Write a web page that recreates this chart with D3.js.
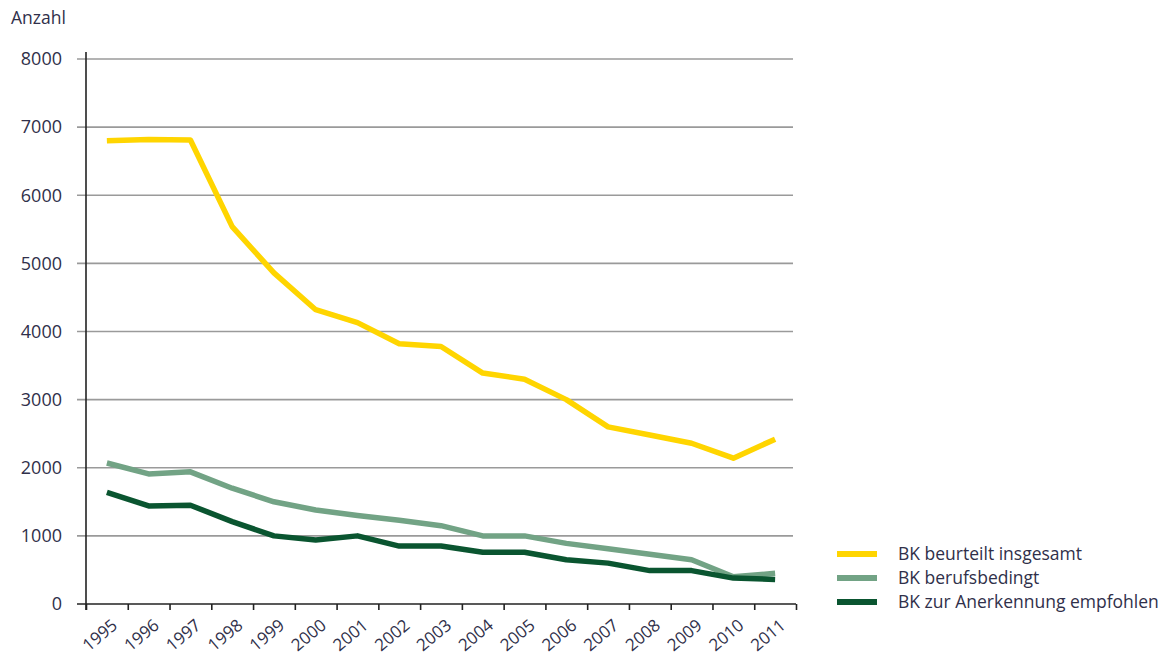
<html>
    <head>
        <script src="https://d3js.org/d3.v7.min.js"></script>
        <style>
            body {
                margin: 0;
                background: #fff;
            }

            text {
                font-family: "Open Sans", sans-serif;
                fill: #30304a;
            }

            .grid line {
                stroke: #9a9a9a;
                stroke-width: 1.6px;
            }

            .series {
                fill: none;
                stroke-width: 5.5px;
                stroke-linejoin: round;
            }
        </style>
    </head>
    <body>
        <script>
            var years = [1995, 1996, 1997, 1998, 1999, 2000, 2001, 2002, 2003,
                         2004, 2005, 2006, 2007, 2008, 2009, 2010, 2011];

            var beurteilt = [6800, 6820, 6810, 5540, 4860, 4320, 4130, 3820, 3780,
                             3390, 3300, 3000, 2600, 2480, 2360, 2140, 2420];
            var berufsbedingt = [2070, 1910, 1940, 1700, 1500, 1380, 1300, 1230, 1150,
                                 1000, 1000, 890, 810, 730, 650, 400, 450];
            var empfohlen = [1640, 1440, 1450, 1210, 1000, 940, 1000, 850, 850,
                             760, 760, 650, 600, 490, 490, 380, 360];

            var yTicks = [0, 1000, 2000, 3000, 4000, 5000, 6000, 7000, 8000];

            var series = [
                {name: "BK beurteilt insgesamt", values: beurteilt, color: "#ffd500"},
                {name: "BK berufsbedingt", values: berufsbedingt, color: "#72a385"},
                {name: "BK zur Anerkennung empfohlen", values: empfohlen, color: "#0a5530"}
            ];

            var margin = {top: 59, right: 368, bottom: 51, left: 86},
                width = 1164 - margin.left - margin.right,
                height = 655 - margin.top - margin.bottom;

            var svg = d3.select("body").append("svg")
                .attr("width", 1164)
                .attr("height", 655);

            var g = svg.append("g")
                .attr("transform", "translate(" + margin.left + "," + margin.top + ")");

            var x = d3.scaleLinear()
                .domain([years[0] - 0.5, years[years.length - 1] + 0.5])
                .range([0, width]);

            var y = d3.scaleLinear()
                .domain([0, 8000])
                .range([height, 0]);

            // horizontal gridlines with a small stub left of the axis
            g.append("g")
                .attr("class", "grid")
                .selectAll("line")
                .data(yTicks.slice(1))
                .enter().append("line")
                .attr("x1", -9)
                .attr("x2", width - 3)
                .attr("y1", function (d) { return y(d); })
                .attr("y2", function (d) { return y(d); });

            var line = d3.line()
                .x(function (d, i) { return x(years[i]); })
                .y(function (d) { return y(d); });

            g.selectAll(".series")
                .data(series)
                .enter().append("path")
                .attr("class", "series")
                .attr("stroke", function (d) { return d.color; })
                .attr("d", function (d) { return line(d.values); });

            // y axis
            var yAxis = g.append("g")
                .call(d3.axisLeft(y).tickValues(yTicks).tickSize(9).tickFormat(d3.format("d")));
            yAxis.select(".domain").remove();
            yAxis.selectAll(".tick line").remove();
            yAxis.selectAll("text")
                .attr("x", -24)
                .style("font-size", "18px");
            g.append("line")
                .attr("x1", 0).attr("x2", 0)
                .attr("y1", -7).attr("y2", height + 6)
                .attr("stroke", "#222")
                .attr("stroke-width", 1.6);

            // x axis: ticks on year boundaries, labels centred on years
            var bounds = years.concat([years[years.length - 1] + 1]).map(function (d) { return d - 0.5; });
            var xAxis = g.append("g")
                .attr("transform", "translate(0," + height + ")")
                .call(d3.axisBottom(x).tickValues(bounds).tickSize(6).tickSizeOuter(0).tickFormat(""));
            xAxis.select(".domain").remove();
            xAxis.selectAll(".tick line")
                .attr("stroke", "#222")
                .attr("stroke-width", 1.6);
            g.append("line")
                .attr("x1", -9).attr("x2", width)
                .attr("y1", height).attr("y2", height)
                .attr("stroke", "#222")
                .attr("stroke-width", 1.6);

            g.append("g")
                .selectAll("text")
                .data(years)
                .enter().append("text")
                .attr("transform", function (d) {
                    return "translate(" + (x(d) + 4) + "," + (height + 14) + ") rotate(-40)";
                })
                .attr("text-anchor", "end")
                .attr("dy", "0.7em")
                .style("font-size", "17px")
                .text(function (d) { return d; });

            svg.append("text")
                .attr("x", 11)
                .attr("y", 24)
                .style("font-size", "17.5px")
                .text("Anzahl");

            // legend
            var legend = svg.append("g")
                .attr("transform", "translate(837,554)")
                .selectAll("g")
                .data(series)
                .enter().append("g")
                .attr("transform", function (d, i) { return "translate(0," + (i * 24) + ")"; });

            legend.append("line")
                .attr("x1", 0).attr("x2", 40)
                .attr("stroke", function (d) { return d.color; })
                .attr("stroke-width", 6);

            legend.append("text")
                .attr("x", 61)
                .attr("dy", "0.35em")
                .style("font-size", "17.5px")
                .text(function (d) { return d.name; });
        </script>
    </body>
</html>
